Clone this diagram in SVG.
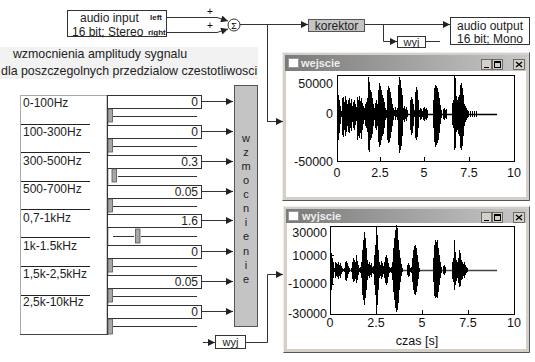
<svg xmlns="http://www.w3.org/2000/svg" width="535" height="362" viewBox="0 0 535 362">
<defs>
<marker id="ah" viewBox="0 0 10 10" refX="10" refY="5" markerWidth="8" markerHeight="7" markerUnits="userSpaceOnUse" orient="auto"><path d="M0,0L10,5L0,10z" fill="#222"/></marker>
<linearGradient id="tb" x1="0" y1="0" x2="1" y2="0"><stop offset="0" stop-color="#7a7a7a"/><stop offset="1" stop-color="#c8c8c8"/></linearGradient>
<style>
text{font-family:"Liberation Sans",Arial,sans-serif;fill:#222}
.t12{font-size:12px}
.t11{font-size:11px}
.sm{font-size:8px;font-weight:bold}
.ax{font-size:12.5px;fill:#111}
.ttl{font-size:11px;font-weight:bold;fill:#eee}
.sym{font-size:10px;fill:#000}
.box{fill:#fff;stroke:#333;stroke-width:1}
.gbox{fill:#c4c4c4;stroke:#555;stroke-width:1}
.ln{fill:none;stroke:#333;stroke-width:1}
.arr{fill:none;stroke:#333;stroke-width:1;marker-end:url(#ah)}
.sep{stroke:#222;stroke-width:1}
.trk{stroke:#333;stroke-width:1}
.thumb{fill:#a8a8a8;stroke:#555;stroke-width:0.8}
.wave{fill:none;stroke:#000;stroke-width:1}
.btn{fill:#d4d0c8;stroke:#555;stroke-width:0.8}
</style>
</defs>
<rect width="535" height="362" fill="#fff"/>

<g id="caption">
<rect x="0" y="47" width="258" height="32" fill="#f2f2f2"/>
<text class="t12" x="100" y="58" text-anchor="middle" style="font-size:12.4px">wzmocnienia amplitudy sygnalu</text>
<text class="t12" x="1" y="75" style="font-size:12.4px">dla poszczegolnych przedzialow czestotliwosci</text>
</g>

<g id="audio-input">
<rect class="box" x="67.5" y="10.5" width="99" height="26"/>
<text class="t12" x="80" y="22">audio input</text>
<text class="t12" x="72" y="36">16 bit; Stereo</text>
<text class="sm" x="150" y="20">left</text>
<text class="sm" x="148" y="35">right</text>
</g>

<g id="sum">
<circle cx="234" cy="25" r="6" fill="#fff" stroke="#333"/>
<text class="sym" x="234" y="28.5" text-anchor="middle" style="font-size:9px">Σ</text>
<text class="sym" x="210" y="15" text-anchor="middle">+</text>
<text class="sym" x="210" y="29" text-anchor="middle">+</text>
</g>

<g id="korektor">
<rect class="gbox" x="308.5" y="19.5" width="56" height="12"/>
<text class="t12" x="336.5" y="29.5" text-anchor="middle">korektor</text>
</g>

<g id="audio-output">
<rect class="box" x="450.5" y="17.5" width="79" height="27"/>
<text class="t12" x="490" y="30" text-anchor="middle">audio output</text>
<text class="t12" x="490" y="43" text-anchor="middle">16 bit; Mono</text>
</g>

<g id="wyj-top">
<rect class="box" x="397.5" y="36.5" width="28" height="11"/>
<text class="t11" x="411.5" y="45.5" text-anchor="middle">wyj</text>
</g>

<g id="wyj-bottom">
<rect class="box" x="215.5" y="335.5" width="30" height="13"/>
<text class="t11" x="230.5" y="345.5" text-anchor="middle">wyj</text>
</g>

<g id="band-panel">
<rect x="20.5" y="95.5" width="87" height="239" fill="#fff" stroke="#aaa"/>
<line x1="20" y1="334.5" x2="108" y2="334.5" stroke="#444"/>
<line x1="107.5" y1="95" x2="107.5" y2="335" stroke="#333" stroke-width="1.5"/>
<text class="t12" x="23" y="107">0-100Hz</text>
<line class="sep" x1="21" y1="124.5" x2="90" y2="124.5"/>
<text class="t12" x="23" y="136">100-300Hz</text>
<line class="sep" x1="21" y1="152.5" x2="90" y2="152.5"/>
<text class="t12" x="23" y="165">300-500Hz</text>
<line class="sep" x1="21" y1="181.5" x2="90" y2="181.5"/>
<text class="t12" x="23" y="193">500-700Hz</text>
<line class="sep" x1="21" y1="209.5" x2="90" y2="209.5"/>
<text class="t12" x="23" y="222">0,7-1kHz</text>
<line class="sep" x1="21" y1="237.5" x2="90" y2="237.5"/>
<text class="t12" x="23" y="250">1k-1.5kHz</text>
<line class="sep" x1="21" y1="266.5" x2="90" y2="266.5"/>
<text class="t12" x="23" y="278">1,5k-2,5kHz</text>
<line class="sep" x1="21" y1="295.5" x2="90" y2="295.5"/>
<text class="t12" x="23" y="306">2,5k-10kHz</text>
</g>

<g id="slider-1">
<rect class="box" x="107.5" y="95.5" width="94" height="13"/>
<text class="t12" x="198" y="106" text-anchor="end">0</text>
<line class="trk" x1="113" y1="116.5" x2="197" y2="116.5"/>
<rect class="thumb" x="108" y="109" width="4.5" height="13"/>
</g>
<g id="slider-2">
<rect class="box" x="107.5" y="125.5" width="94" height="13"/>
<text class="t12" x="198" y="136" text-anchor="end">0</text>
<line class="trk" x1="113" y1="146.5" x2="197" y2="146.5"/>
<rect class="thumb" x="108" y="139" width="4.5" height="13"/>
</g>
<g id="slider-3">
<rect class="box" x="107.5" y="155.5" width="94" height="13"/>
<text class="t12" x="198" y="166" text-anchor="end">0.3</text>
<line class="trk" x1="118" y1="176.5" x2="197" y2="176.5"/>
<rect class="thumb" x="112" y="169" width="4.5" height="13"/>
</g>
<g id="slider-4">
<rect class="box" x="107.5" y="185.5" width="94" height="13"/>
<text class="t12" x="198" y="196" text-anchor="end">0.05</text>
<line class="trk" x1="113" y1="206.5" x2="197" y2="206.5"/>
<rect class="thumb" x="108" y="199" width="4.5" height="13"/>
</g>
<g id="slider-5">
<rect class="box" x="107.5" y="214.5" width="94" height="13"/>
<text class="t12" x="198" y="225" text-anchor="end">1.6</text>
<line class="trk" x1="113" y1="236.5" x2="134" y2="236.5"/>
<line class="trk" x1="141" y1="236.5" x2="197" y2="236.5"/>
<rect class="thumb" x="135.5" y="229" width="4.5" height="14"/>
</g>
<g id="slider-6">
<rect class="box" x="107.5" y="245.5" width="94" height="13"/>
<text class="t12" x="198" y="256" text-anchor="end">0</text>
<line class="trk" x1="113" y1="266.5" x2="197" y2="266.5"/>
<rect class="thumb" x="108" y="259" width="4.5" height="13"/>
</g>
<g id="slider-7">
<rect class="box" x="107.5" y="275.5" width="94" height="13"/>
<text class="t12" x="198" y="286" text-anchor="end">0.05</text>
<line class="trk" x1="113" y1="296.5" x2="197" y2="296.5"/>
<rect class="thumb" x="108" y="289" width="4.5" height="13"/>
</g>
<g id="slider-8">
<rect class="box" x="107.5" y="305.5" width="94" height="13"/>
<text class="t12" x="198" y="316" text-anchor="end">0</text>
<line class="trk" x1="113" y1="326.5" x2="197" y2="326.5"/>
<rect class="thumb" x="108" y="319" width="4.5" height="15"/>
</g>

<g id="wzmocnienie">
<rect class="gbox" x="234.5" y="85.5" width="23" height="241"/>
<g class="t11" text-anchor="middle" style="font-size:11px">
<text x="246" y="142">w</text>
<text x="246" y="156">z</text>
<text x="246" y="170">m</text>
<text x="246" y="184">o</text>
<text x="246" y="198">c</text>
<text x="246" y="212">n</text>
<text x="246" y="226">i</text>
<text x="246" y="240">e</text>
<text x="246" y="255">n</text>
<text x="246" y="269">i</text>
<text x="246" y="283">e</text>
</g>
</g>

<g id="win-wejscie">
<rect x="282" y="52" width="248" height="149" fill="#d4d0c8"/>
<path d="M282.5,200.5V52.5H529.5" fill="none" stroke="#eee"/>
<path d="M282.5,200.5H529.5V52.5" fill="none" stroke="#555"/>
<rect x="286" y="71" width="240" height="126" fill="#fff"/>
<rect x="285" y="55" width="242" height="16" fill="url(#tb)"/>
<rect x="288.5" y="58.5" width="10" height="9" fill="#fff" stroke="#999"/>
<text class="ttl" x="301" y="67">wejscie</text>
<rect class="btn" x="481.5" y="59.5" width="10" height="10"/>
<line x1="484" y1="67.5" x2="489" y2="67.5" stroke="#000"/>
<rect class="btn" x="492.5" y="59.5" width="10" height="10"/>
<rect x="494.5" y="61.5" width="6" height="6" fill="none" stroke="#000"/>
<line x1="494.5" y1="62.5" x2="500.5" y2="62.5" stroke="#000"/>
<rect class="btn" x="513.5" y="59.5" width="11" height="10"/>
<path d="M516,62L522,67M522,62L516,67" stroke="#000" stroke-width="1.3"/>
<rect x="337.5" y="75.5" width="177" height="86" fill="none" stroke="#000"/>
<path d="M380.5,161V157M424.5,161V157M469.5,161V157" stroke="#000"/>
<text class="ax" x="333" y="88" text-anchor="end">50000</text>
<text class="ax" x="333" y="118" text-anchor="end">0</text>
<text class="ax" x="333" y="166" text-anchor="end">-50000</text>
<text class="ax" x="337" y="177" text-anchor="middle">0</text>
<text class="ax" x="380" y="177" text-anchor="middle">2.5</text>
<text class="ax" x="424" y="177" text-anchor="middle">5</text>
<text class="ax" x="469" y="177" text-anchor="middle">7.5</text>
<text class="ax" x="514" y="177" text-anchor="middle">10</text>
<line x1="337" y1="114.5" x2="497" y2="114.5" stroke="#000" stroke-width="1.5"/>
<path class="wave" transform="translate(0.5,0)" d="M337,92V147M338,95V140M339,100V133M340,106V124M341,111V117M342,98V135M343,97V137M344,102V130M345,96V136M346,100V132M347,104V126M348,100V132M349,98V133M350,103V128M351,99V131M352,106V122M353,102V128M354,100V130M355,104V125M356,107V121M357,97V140M358,100V136M359,96V138M360,101V133M361,98V139M362,103V130M363,106V124M364,108V120M365,104V126M366,102V128M367,98V132M368,77V150M369,82V152M370,90V140M371,92V138M372,98V134M373,104V126M374,108V120M375,103V128M376,100V130M377,104V126M378,90V142M379,83V147M380,86V145M381,90V140M382,95V136M383,98V134M384,102V128M385,108V120M386,110V118M387,90V140M388,86V143M389,88V142M390,92V138M391,98V132M392,104V126M393,108V120M394,110V116M395,107V120M396,110V117M397,108V120M398,85V145M399,77V153M400,80V150M401,88V146M402,95V136M403,108V120M404,106V122M405,109V119M406,107V121M407,110V117M410,100V130M411,97V135M412,99V133M413,104V126M414,110V117M415,92V138M416,87V140M417,90V137M418,100V128M419,110V117M420,108V120M421,109V119M422,111V117M423,108V120M424,107V121M425,109V119M426,108V120M427,110V118M433,100V128M434,88V142M435,85V147M436,86V145M437,88V143M438,92V140M439,98V133M440,105V124M441,110V118M443,109V119M444,108V120M445,110V118M446,109V119M452,103V125M453,100V128M454,75V150M455,78V148M456,96V132M457,100V130M458,97V134M459,95V136M460,85V148M461,83V150M462,88V146M463,95V136M464,104V126M465,106V122M466,108V120M467,110V118M468,111V117M470,111V117M472,111V117M474,111V117M476,111V117"/>
</g>

<g id="win-wyjscie">
<rect x="283" y="206" width="247" height="147" fill="#d4d0c8"/>
<path d="M283.5,352.5V206.5H529.5" fill="none" stroke="#eee"/>
<path d="M283.5,352.5H529.5V206.5" fill="none" stroke="#555"/>
<rect x="287" y="223" width="239" height="126" fill="#fff"/>
<rect x="286" y="209" width="241" height="14" fill="url(#tb)"/>
<rect x="288.5" y="211.5" width="10" height="9" fill="#fff" stroke="#999"/>
<text class="ttl" x="302" y="220">wyjscie</text>
<rect class="btn" x="481.5" y="212.5" width="10" height="10"/>
<line x1="484" y1="220.5" x2="489" y2="220.5" stroke="#000"/>
<rect class="btn" x="492.5" y="212.5" width="10" height="10"/>
<rect x="494.5" y="214.5" width="6" height="6" fill="none" stroke="#000"/>
<line x1="494.5" y1="215.5" x2="500.5" y2="215.5" stroke="#000"/>
<rect class="btn" x="513.5" y="212.5" width="11" height="10"/>
<path d="M516,215L522,220M522,215L516,220" stroke="#000" stroke-width="1.3"/>
<rect x="330.5" y="226.5" width="184" height="88" fill="none" stroke="#000"/>
<path d="M330,255.5H334M330,284.5H334M376.5,314V310M422.5,314V310M468.5,314V310" stroke="#000"/>
<text class="ax" x="327" y="237" text-anchor="end">30000</text>
<text class="ax" x="327" y="260" text-anchor="end">10000</text>
<text class="ax" x="327" y="288" text-anchor="end">-10000</text>
<text class="ax" x="327" y="318" text-anchor="end">-30000</text>
<text class="ax" x="330" y="327" text-anchor="middle">0</text>
<text class="ax" x="376" y="327" text-anchor="middle">2.5</text>
<text class="ax" x="422" y="327" text-anchor="middle">5</text>
<text class="ax" x="468" y="327" text-anchor="middle">7.5</text>
<text class="ax" x="514" y="327" text-anchor="middle">10</text>
<text class="ax" x="417" y="345" text-anchor="middle">czas [s]</text>
<line x1="330" y1="270.5" x2="497" y2="270.5" stroke="#444" stroke-width="1.5"/>
<path class="wave" transform="translate(0.5,0)" d="M330,262V278M331,253V290M332,258V284M333,262V278M334,268V272M335,262V278M336,263V276M337,264V277M338,262V279M339,265V276M340,263V278M341,266V274M342,268V272M343,269V271M344,268V272M345,262V280M346,261V281M347,263V278M348,266V274M349,268V272M351,268V272M352,262V279M353,258V282M354,260V281M355,262V279M356,255V283M357,261V280M358,265V275M359,268V272M360,267V273M361,262V278M362,250V295M363,240V300M364,232V305M365,238V298M366,248V290M367,260V280M368,264V276M369,262V278M370,265V275M371,263V277M372,267V273M373,266V274M374,255V285M375,245V295M376,227V312M377,235V305M378,250V290M379,262V278M380,265V276M381,261V279M382,263V277M383,266V274M384,262V278M385,257V283M386,255V285M387,258V283M388,263V277M389,267V273M390,268V272M391,267V273M392,262V280M393,248V292M394,238V300M395,230V308M396,225V312M397,228V310M398,240V303M399,250V290M400,258V282M401,264V276M402,268V272M407,265V275M408,263V277M409,265V276M410,268V272M411,267V273M412,258V282M413,250V290M414,246V294M415,245V295M416,248V292M417,255V286M418,262V279M419,268V272M433,258V282M434,245V296M435,240V298M436,242V297M437,240V298M438,248V292M439,255V285M440,262V278M441,267V273M443,266V274M444,265V275M445,267V273M452,262V279M453,258V282M454,240V290M455,252V285M456,260V281M457,262V278M458,258V283M459,250V287M460,253V286M461,260V280M462,262V279M463,264V276M464,262V278M465,265V275M466,267V273M467,268V272"/>
</g>

<g id="connectors">
<path class="arr" d="M167,17.5H217L228,21"/>
<path class="arr" d="M167,32.5H217L228,29"/>
<path class="ln" d="M240,24.5H267.5V122"/>
<path class="arr" d="M267,24.5H308"/>
<path class="arr" d="M267.5,121.5H283"/>
<path class="arr" d="M365,24.5H450"/>
<path class="arr" d="M383.5,24.5V41.5H397"/>
<path class="ln" d="M425,41.5H440"/>
<path class="arr" d="M202,101.5H233"/>
<path class="arr" d="M202,131.5H233"/>
<path class="arr" d="M202,161.5H233"/>
<path class="arr" d="M202,191.5H233"/>
<path class="arr" d="M202,220.5H233"/>
<path class="arr" d="M202,251.5H233"/>
<path class="arr" d="M202,281.5H233"/>
<path class="arr" d="M202,311.5H233"/>
<path class="arr" d="M203,342.5H215"/>
<path class="arr" d="M245,342.5H267.5V274.5H283"/>
</g>
</svg>
